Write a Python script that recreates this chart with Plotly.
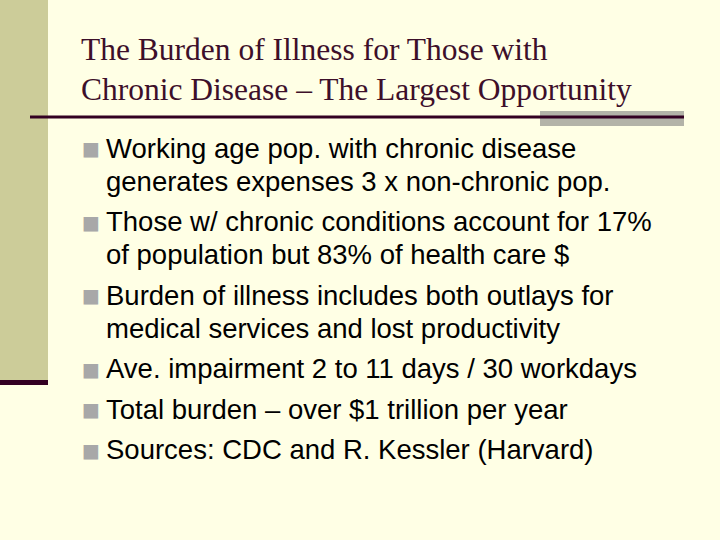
import plotly.graph_objects as go

title_lines = ["The Burden of Illness for Those with",
               "Chronic Disease – The Largest Opportunity"]
bullets = [
    ["Working age pop. with chronic disease", "generates expenses 3 x non-chronic pop."],
    ["Those w/ chronic conditions account for 17%", "of population but 83% of health care $"],
    ["Burden of illness includes both outlays for", "medical services and lost productivity"],
    ["Ave. impairment 2 to 11 days / 30 workdays"],
    ["Total burden – over $1 trillion per year"],
    ["Sources: CDC and R. Kessler (Harvard)"],
]

fig = go.Figure()
shapes = [
    dict(type="rect", x0=0, x1=48, y0=0, y1=382, fillcolor="#CCCC99", line_width=0, layer="below"),
    dict(type="rect", x0=0, x1=48, y0=380, y1=385, fillcolor="#330022", line_width=0),
    dict(type="rect", x0=540, x1=684, y0=111, y1=126, fillcolor="#B3B3A8", line_width=0),
    dict(type="rect", x0=30, x1=684, y0=115.5, y1=118.5, fillcolor="#330022", line_width=0),
]
ann = []
for i, t in enumerate(title_lines):
    ann.append(dict(x=79, y=49 + i * 40, text=t, showarrow=False, xanchor="left", yanchor="middle",
                    font=dict(family="Liberation Serif", size=31.5, color="#3D0F2A")))
y = 148
for b in bullets:
    ann.append(dict(x=80, y=y, text="■", showarrow=False, xanchor="left", yanchor="middle",
                    font=dict(family="DejaVu Sans", size=19, color="#A8A8A8")))
    for line in b:
        ann.append(dict(x=104, y=y, text=line, showarrow=False, xanchor="left", yanchor="middle",
                        font=dict(family="Liberation Sans", size=27.5, color="#000000")))
        y += 33
    y += 7.5

fig.update_layout(
    width=720, height=540, margin=dict(l=0, r=0, t=0, b=0),
    paper_bgcolor="#FFFFE5", plot_bgcolor="#FFFFE5",
    xaxis=dict(range=[0, 720], visible=False, fixedrange=True),
    yaxis=dict(range=[540, 0], visible=False, fixedrange=True),
    shapes=shapes, annotations=ann, showlegend=False,
)
fig.write_html("out.html", config={"displayModeBar": False},
               post_script="document.body.style.margin='0';document.body.style.background='#FFFFE5';")
